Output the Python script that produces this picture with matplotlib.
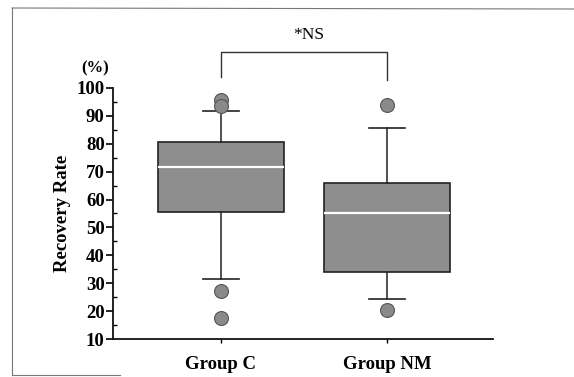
import matplotlib.pyplot as plt
from matplotlib.lines import Line2D

# values
groups = ["Group C", "Group NM"]
q1 = [55.6, 34.0]
medians = [71.5, 55.0]
q3 = [80.6, 66.0]
whisker_low = [31.5, 24.4]
whisker_high = [91.8, 85.7]
outliers = [[95.8, 93.5, 27.2, 17.6], [94.0, 20.4]]
y_ticks = [10, 20, 30, 40, 50, 60, 70, 80, 90, 100]

plt.rcParams['font.family'] = ['Liberation Serif', 'DejaVu Serif']
plt.rcParams['font.weight'] = 'bold'

fig = plt.figure(figsize=(5.74, 3.77), dpi=100)
W, H = 574, 377
ax = fig.add_axes([113 / W, 1 - 339 / H, 380 / W, 251 / H])

stats = []
for i, g in enumerate(groups):
    stats.append({
        "label": g, "med": medians[i], "q1": q1[i], "q3": q3[i],
        "whislo": whisker_low[i], "whishi": whisker_high[i], "fliers": outliers[i],
    })

ax.bxp(stats, positions=[1, 2], widths=0.76, capwidths=0.22, patch_artist=True,
       boxprops=dict(facecolor='#8e8e8e', edgecolor='#222222', linewidth=1.2),
       medianprops=dict(color='white', linewidth=1.6),
       whiskerprops=dict(color='#222222', linewidth=1.1),
       capprops=dict(color='#222222', linewidth=1.2),
       flierprops=dict(marker='o', markersize=10, markerfacecolor='#8a8a8a',
                       markeredgecolor='#555555', markeredgewidth=0.8))

ax.set_xlim(1 - 108 / 166, 2 + 106 / 166)
ax.set_ylim(10, 100)
ax.set_yticks(y_ticks)
ax.set_yticks([v + 5 for v in y_ticks[:-1]], minor=True)
ax.tick_params(axis='y', which='major', direction='out', length=5, width=1.2,
               labelsize=13.5, pad=1)
ax.tick_params(axis='y', which='minor', direction='in', length=3, width=1)
ax.tick_params(axis='x', direction='out', length=3, width=1, labelsize=13.5, pad=9)
ax.set_xticks([1, 2])
ax.set_xticklabels(groups, fontweight='bold')
for lab in ax.get_yticklabels():
    lab.set_fontweight('bold')

for s in ['top', 'right']:
    ax.spines[s].set_visible(False)
for s in ['left', 'bottom']:
    ax.spines[s].set_linewidth(1.3)
    ax.spines[s].set_color('#111111')

ax.set_ylabel("Recovery Rate", fontsize=13.5, fontweight='bold', labelpad=4)
fig.text(95 / W, 1 - 68 / H, "(%)", fontsize=12, fontweight='bold',
         ha='center', va='center')

# significance bracket
ax.plot([1, 1, 2, 2], [103.9, 112.9, 112.9, 102.9], color='#333333',
        linewidth=1.0, clip_on=False)
ax.text(1.53, 119, "*NS", fontsize=12.5, fontweight='normal',
        ha='center', va='center')

# scanned frame
fc = '#777777'
fig.add_artist(Line2D([12 / W, 12 / W], [1 - 8 / H, 1 - 375 / H], color=fc, lw=0.8))
fig.add_artist(Line2D([12 / W, 1], [1 - 8 / H, 1 - 9 / H], color=fc, lw=0.8))
fig.add_artist(Line2D([12 / W, 120 / W], [1 - 375 / H, 1 - 375 / H], color=fc, lw=0.8))

fig.savefig("out.png", dpi=100)
